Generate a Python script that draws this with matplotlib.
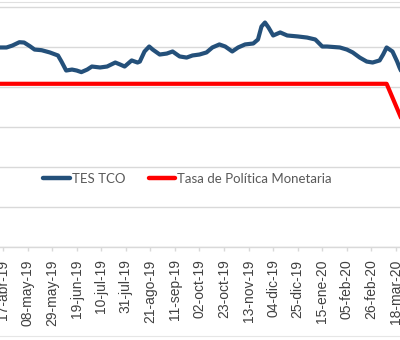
import matplotlib
matplotlib.use('Agg')
import matplotlib.pyplot as plt
import matplotlib.dates as mdates
import pandas as pd

# Serie TES TCO (%)
tes_fechas = ['2019-04-14', '2019-04-20', '2019-04-25', '2019-05-01', '2019-05-05',
              '2019-05-10', '2019-05-14', '2019-05-20', '2019-05-27', '2019-06-03',
              '2019-06-06', '2019-06-10', '2019-06-15', '2019-06-19', '2019-06-23',
              '2019-06-28', '2019-07-02', '2019-07-09', '2019-07-15', '2019-07-22',
              '2019-07-26', '2019-07-30', '2019-08-05', '2019-08-10', '2019-08-12',
              '2019-08-16', '2019-08-20', '2019-08-23', '2019-08-29', '2019-09-04',
              '2019-09-09', '2019-09-15', '2019-09-21', '2019-09-26', '2019-10-02',
              '2019-10-08', '2019-10-13', '2019-10-19', '2019-10-24', '2019-10-30',
              '2019-11-04', '2019-11-10', '2019-11-17', '2019-11-21', '2019-11-24',
              '2019-11-27', '2019-11-30', '2019-12-04', '2019-12-10', '2019-12-16',
              '2019-12-25', '2020-01-02', '2020-01-09', '2020-01-15', '2020-01-19',
              '2020-01-30', '2020-02-05', '2020-02-10', '2020-02-16', '2020-02-22',
              '2020-02-27', '2020-03-04', '2020-03-07', '2020-03-10', '2020-03-15',
              '2020-03-19', '2020-03-21', '2020-03-25']
tes_valores = [4.497, 4.497, 4.509, 4.530, 4.528,
               4.505, 4.484, 4.480, 4.466, 4.447,
               4.409, 4.353, 4.359, 4.353, 4.343,
               4.359, 4.378, 4.372, 4.378, 4.403,
               4.391, 4.378, 4.416, 4.403, 4.409,
               4.472, 4.503, 4.484, 4.453, 4.459,
               4.472, 4.441, 4.434, 4.447, 4.453,
               4.466, 4.497, 4.516, 4.503, 4.472,
               4.497, 4.516, 4.522, 4.547, 4.628,
               4.653, 4.622, 4.572, 4.591, 4.572,
               4.566, 4.559, 4.547, 4.503, 4.503,
               4.497, 4.484, 4.466, 4.434, 4.409,
               4.403, 4.416, 4.453, 4.497, 4.472,
               4.409, 4.372, 4.309]

# Tasa de Política Monetaria (%)
tpm_fechas = ['2019-04-14', '2020-03-10', '2020-04-08']
tpm_valores = [4.27, 4.27, 3.77]

# Etiquetas del eje X
ticks_fechas = ['2019-04-17', '2019-05-08', '2019-05-29', '2019-06-19', '2019-07-10',
                '2019-07-31', '2019-08-21', '2019-09-11', '2019-10-02', '2019-10-23',
                '2019-11-13', '2019-12-04', '2019-12-25', '2020-01-15', '2020-02-05',
                '2020-02-26', '2020-03-18']
ticks_etiquetas = ['17-abr-19', '08-may-19', '29-may-19', '19-jun-19', '10-jul-19',
                   '31-jul-19', '21-ago-19', '11-sep-19', '02-oct-19', '23-oct-19',
                   '13-nov-19', '04-dic-19', '25-dic-19', '15-ene-20', '05-feb-20',
                   '26-feb-20', '18-mar-20']

W, H = 400, 340
fig = plt.figure(figsize=(W / 100, H / 100), dpi=100)
fig.patch.set_facecolor('white')

y_eje = 247  # fila de pixel del eje X
ax = fig.add_axes([0, 1 - y_eje / H, 1, y_eje / H])

px_dia = 1.1696
x0 = mdates.date2num(pd.Timestamp('2019-04-17'))
ax.set_xlim(x0 - 3 / px_dia, x0 + 397 / px_dia)
ax.set_ylim(3.25, 3.25 + y_eje / 160)

azul = '#24507a'
rojo = '#ff0000'
ax.plot(pd.to_datetime(tes_fechas), tes_valores, color=azul, lw=3.0,
        solid_joinstyle='round', solid_capstyle='round', label='TES TCO', zorder=3)
ax.plot(pd.to_datetime(tpm_fechas), tpm_valores, color=rojo, lw=3.0,
        solid_joinstyle='round', solid_capstyle='round',
        label='Tasa de Política Monetaria', zorder=3)

# Cuadricula horizontal
ax.set_yticks([3.25, 3.5, 3.75, 4.0, 4.25, 4.5, 4.75])
ax.yaxis.grid(True, color='#d9d9d9', lw=1.0)
ax.set_axisbelow(True)
ax.tick_params(axis='y', left=False, labelleft=False)

for s in ['top', 'left', 'right']:
    ax.spines[s].set_visible(False)
ax.spines['bottom'].set_color('#d9d9d9')
ax.spines['bottom'].set_linewidth(1.0)

ax.set_xticks(pd.to_datetime(ticks_fechas))
ax.set_xticklabels(ticks_etiquetas, rotation=90, fontsize=10,
                   family='Liberation Sans', color='#404040')
ax.tick_params(axis='x', length=3, width=1, color='#d9d9d9', pad=6)

leg = ax.legend(loc='center', bbox_to_anchor=(0.469, 0.2753), ncol=2, frameon=False,
                handlelength=2.0, handletextpad=0.15, columnspacing=1.8,
                prop={'family': 'Lato', 'size': 9.5})
for t in leg.get_texts():
    t.set_color('#595959')
for h in leg.get_lines():
    h.set_linewidth(3.2)

# Bordes finos arriba y abajo
fig.add_artist(plt.Line2D([0, 1], [1 - 1.5 / H, 1 - 1.5 / H], color='#e0e0e0', lw=0.8))
fig.add_artist(plt.Line2D([0, 1], [1 - 336 / H, 1 - 336 / H], color='#e6e6e6', lw=0.8))

fig.savefig('out.png', dpi=100)
